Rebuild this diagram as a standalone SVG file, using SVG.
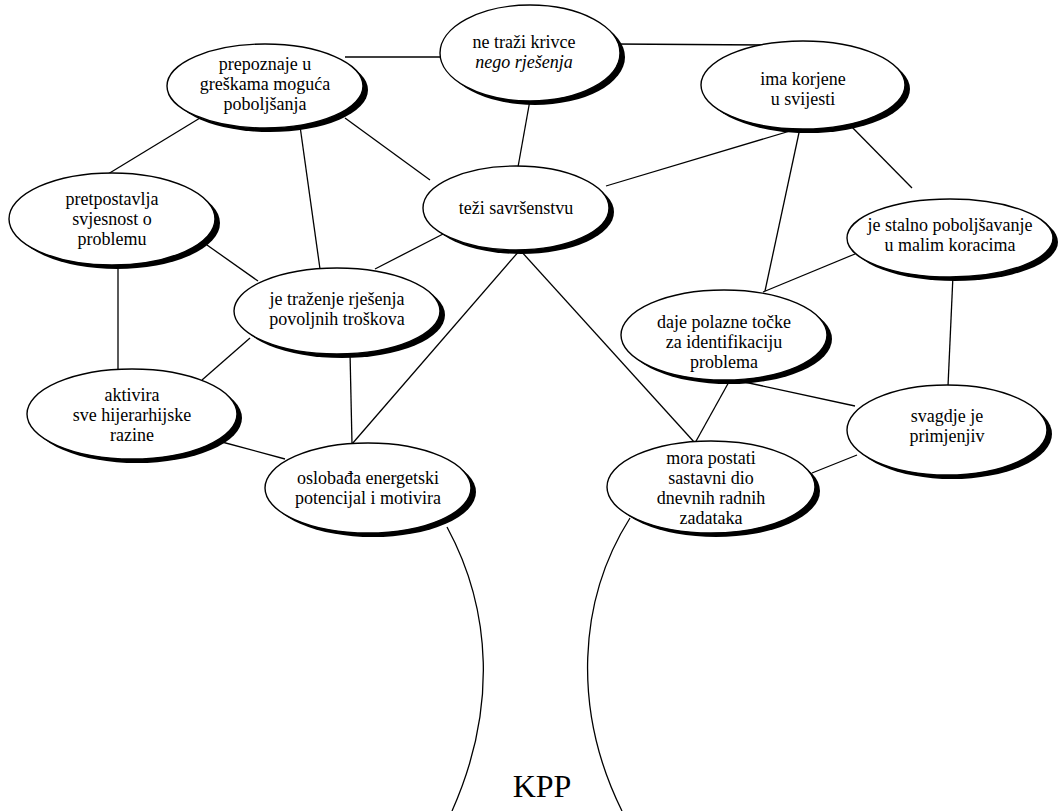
<svg xmlns="http://www.w3.org/2000/svg" width="1062" height="811" viewBox="0 0 1062 811" font-family="'Liberation Serif', 'Times New Roman', serif">
<style>
.e{fill:#fff;stroke:#000;stroke-width:1.4}
.s{fill:#000}
.t{font-family:'Liberation Serif','Times New Roman',serif;font-size:18px;text-anchor:middle;fill:#000}
.i{font-style:italic}
.c line,.c path{stroke:#000;stroke-width:1.3;fill:none}
</style>
<rect width="1062" height="811" fill="#fff"/>
<g id="connectors" class="c">
<line x1="345" y1="57" x2="443" y2="57"/>
<line x1="615" y1="44" x2="765" y2="45"/>
<line x1="200" y1="118" x2="108" y2="174"/>
<line x1="345" y1="118" x2="430" y2="180"/>
<line x1="300" y1="126" x2="320" y2="269"/>
<line x1="530" y1="100" x2="518" y2="167"/>
<line x1="800" y1="128" x2="606" y2="186"/>
<line x1="800" y1="128" x2="765" y2="291"/>
<line x1="845" y1="120" x2="912" y2="188"/>
<line x1="445" y1="233" x2="375" y2="269"/>
<line x1="520" y1="250" x2="352" y2="444"/>
<line x1="520" y1="250" x2="695" y2="443"/>
<line x1="207" y1="245" x2="258" y2="281"/>
<line x1="118" y1="264" x2="118" y2="370"/>
<line x1="250" y1="338" x2="202" y2="380"/>
<line x1="350" y1="352" x2="352" y2="444"/>
<line x1="222" y1="442" x2="285" y2="459"/>
<line x1="855" y1="254" x2="763" y2="292"/>
<line x1="953" y1="275" x2="948" y2="386"/>
<line x1="735" y1="380" x2="855" y2="406"/>
<line x1="730" y1="380" x2="695" y2="443"/>
<line x1="857" y1="455" x2="812" y2="473"/>
<path d="M447 527 C492 610 497 710 452 811"/>
<path d="M630 518 C578 600 572 710 622 811"/>
</g>
<g id="n-ne-trazi">
<ellipse class="s" cx="535" cy="57" rx="90" ry="48"/>
<ellipse class="e" cx="530" cy="53" rx="90" ry="48"/>
<text class="t" x="524" y="48">ne traži krivce</text>
<text class="t i" x="524" y="68">nego rješenja</text>
</g>
<g id="n-prepoznaje">
<ellipse class="s" cx="270" cy="90" rx="98" ry="42"/>
<ellipse class="e" cx="265" cy="86" rx="98" ry="42"/>
<text class="t" x="265" y="70">prepoznaje u</text>
<text class="t" x="265" y="90">greškama moguća</text>
<text class="t" x="265" y="110">poboljšanja</text>
</g>
<g id="n-ima-korjene">
<ellipse class="s" cx="808" cy="89" rx="102" ry="44"/>
<ellipse class="e" cx="803" cy="85" rx="102" ry="44"/>
<text class="t" x="803" y="85">ima korjene</text>
<text class="t" x="803" y="105">u svijesti</text>
</g>
<g id="n-tezi">
<ellipse class="s" cx="521" cy="212" rx="93" ry="42"/>
<ellipse class="e" cx="516" cy="208" rx="93" ry="42"/>
<text class="t" x="516" y="214">teži savršenstvu</text>
</g>
<g id="n-pretpostavlja">
<ellipse class="s" cx="117" cy="223" rx="103" ry="46"/>
<ellipse class="e" cx="112" cy="219" rx="103" ry="46"/>
<text class="t" x="112" y="205">pretpostavlja</text>
<text class="t" x="112" y="225">svjesnost o</text>
<text class="t" x="112" y="245">problemu</text>
</g>
<g id="n-trazenje">
<ellipse class="s" cx="342" cy="315" rx="103" ry="43"/>
<ellipse class="e" cx="337" cy="311" rx="103" ry="43"/>
<text class="t" x="337" y="305">je traženje rješenja</text>
<text class="t" x="337" y="325">povoljnih troškova</text>
</g>
<g id="n-stalno">
<ellipse class="s" cx="955" cy="242" rx="103" ry="39"/>
<ellipse class="e" cx="950" cy="238" rx="103" ry="39"/>
<text class="t" x="950" y="231">je stalno poboljšavanje</text>
<text class="t" x="950" y="251">u malim koracima</text>
</g>
<g id="n-daje">
<ellipse class="s" cx="729" cy="339" rx="103" ry="45"/>
<ellipse class="e" cx="724" cy="335" rx="103" ry="45"/>
<text class="t" x="724" y="328">daje polazne točke</text>
<text class="t" x="724" y="348">za identifikaciju</text>
<text class="t" x="724" y="368">problema</text>
</g>
<g id="n-aktivira">
<ellipse class="s" cx="137" cy="418" rx="105" ry="45"/>
<ellipse class="e" cx="132" cy="414" rx="105" ry="45"/>
<text class="t" x="132" y="401">aktivira</text>
<text class="t" x="132" y="421">sve hijerarhijske</text>
<text class="t" x="132" y="441">razine</text>
</g>
<g id="n-oslobada">
<ellipse class="s" cx="373" cy="492" rx="103" ry="45"/>
<ellipse class="e" cx="368" cy="488" rx="103" ry="45"/>
<text class="t" x="368" y="484">oslobađa energetski</text>
<text class="t" x="368" y="504">potencijal i motivira</text>
</g>
<g id="n-svagdje">
<ellipse class="s" cx="952" cy="434" rx="100" ry="45"/>
<ellipse class="e" cx="947" cy="430" rx="100" ry="45"/>
<text class="t" x="947" y="422">svagdje je</text>
<text class="t" x="947" y="442">primjenjiv</text>
</g>
<g id="n-mora">
<ellipse class="s" cx="716" cy="491" rx="104" ry="46"/>
<ellipse class="e" cx="711" cy="487" rx="104" ry="46"/>
<text class="t" x="711" y="464">mora postati</text>
<text class="t" x="711" y="484">sastavni dio</text>
<text class="t" x="711" y="504">dnevnih radnih</text>
<text class="t" x="711" y="524">zadataka</text>
</g>
<text id="kpp" x="542" y="797" font-size="32" text-anchor="middle" fill="#000">KPP</text>
</svg>
